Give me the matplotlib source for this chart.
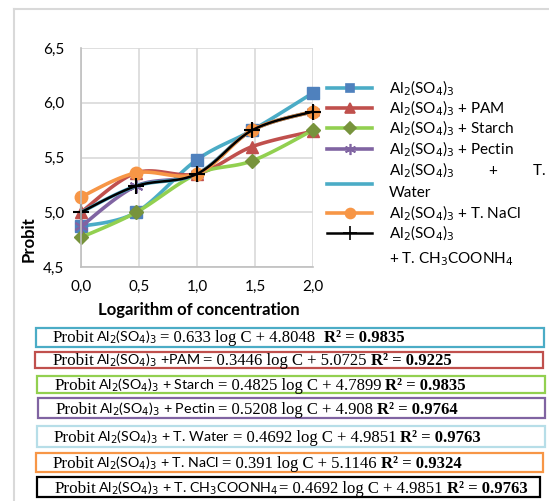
import numpy as np
import matplotlib
matplotlib.use("Agg")
import matplotlib.pyplot as plt
from matplotlib.lines import Line2D
from matplotlib.patches import Rectangle
from matplotlib import font_manager

# ---------------- data ----------------
log_conc = [0.0, 0.477, 1.0, 1.477, 2.0]
xticks = [0.0, 0.5, 1.0, 1.5, 2.0]
xtick_labels = ["0,0", "0,5", "1,0", "1,5", "2,0"]
yticks = [4.5, 5.0, 5.5, 6.0, 6.5]
ytick_labels = ["4,5", "5,0", "5,5", "6,0", "6,5"]

probit_al = [4.87, 5.00, 5.48, 5.75, 6.09]
probit_pam = [5.00, 5.36, 5.35, 5.60, 5.74]
probit_starch = [4.77, 5.00, 5.35, 5.47, 5.75]
probit_pectin = [4.87, 5.24, 5.35, 5.75, 5.92]
probit_water = [5.00, 5.24, 5.35, 5.75, 5.92]
probit_nacl = [5.14, 5.36, 5.35, 5.75, 5.92]
probit_ch3coonh4 = [5.00, 5.24, 5.35, 5.75, 5.92]

series_labels = [
    "Al$_2$(SO$_4$)$_3$",
    "Al$_2$(SO$_4$)$_3$ + PAM",
    "Al$_2$(SO$_4$)$_3$ + Starch",
    "Al$_2$(SO$_4$)$_3$ + Pectin",
    "Al$_2$(SO$_4$)$_3$         +         T.\nWater",
    "Al$_2$(SO$_4$)$_3$ + T. NaCl",
    "Al$_2$(SO$_4$)$_3$\n+ T. CH$_3$COONH$_4$",
]

eq_mid = ["Al$_2$(SO$_4$)$_3$", "Al$_2$(SO$_4$)$_3$ +PAM", "Al$_2$(SO$_4$)$_3$ + Starch",
          "Al$_2$(SO$_4$)$_3$ + Pectin", "Al$_2$(SO$_4$)$_3$ + T. Water",
          "Al$_2$(SO$_4$)$_3$ + T. NaCl", "Al$_2$(SO$_4$)$_3$ + T. CH$_3$COONH$_4$"]
eq_slope = ["0.633", "0.3446", "0.4825", "0.5208", "0.4692", "0.391", "0.4692"]
eq_icpt = ["4.8048", "5.0725", "4.7899", "4.908", "4.9851", "5.1146", "4.9851"]
eq_r2 = ["0.9835", "0.9225", "0.9835", "0.9764", "0.9763", "0.9324", "0.9763"]

# ---------------- style ----------------
W, H = 549, 501
fig = plt.figure(figsize=(W / 100, H / 100), dpi=100)

def fx(px):
    return px / W

def fy(py):
    return 1 - py / H

SANS = "Lato"
SERIF = "Liberation Serif"
installed = {f.name for f in font_manager.fontManager.ttflist}
EQ_SANS = "Liberation Sans Narrow" if "Liberation Sans Narrow" in installed else SANS

# chart-area border
fig.add_artist(Line2D([fx(14), fx(14)], [fy(9), fy(501)], color="#D9D9D9", lw=1.5))
fig.add_artist(Line2D([fx(14), fx(549)], [fy(9), fy(9)], color="#D9D9D9", lw=1.5))

ax = fig.add_axes([fx(81), fy(267), fx(313) - fx(81), fy(48) - fy(267)])
ax.set_xlim(0, 2)
ax.set_ylim(4.5, 6.5)
ax.set_xticks(xticks)
ax.set_xticklabels(xtick_labels, fontfamily=SANS, fontsize=11)
ax.set_yticks(yticks)
ax.set_yticklabels(ytick_labels, fontfamily=SANS, fontsize=11)
ax.tick_params(length=0, pad=9)
ax.tick_params(axis="y", pad=12)
ax.grid(True, color="#D9D9D9", lw=1.2)
ax.set_axisbelow(True)
for s in ["top", "right"]:
    ax.spines[s].set_visible(False)
for s in ["left", "bottom"]:
    ax.spines[s].set_color("#BFBFBF")
    ax.spines[s].set_linewidth(1.2)

def smooth(x, y, n=20):
    x = np.asarray(x, float)
    y = np.asarray(y, float)
    P = np.column_stack([x, y])
    P = np.vstack([P[0], P, P[-1]])
    out = []
    for i in range(1, len(P) - 2):
        p0, p1, p2, p3 = P[i - 1], P[i], P[i + 1], P[i + 2]
        t = np.linspace(0, 1, n)[:, None]
        c1 = p1 + (p2 - p0) / 6
        c2 = p2 - (p3 - p1) / 6
        seg = ((1 - t) ** 3) * p1 + 3 * ((1 - t) ** 2) * t * c1 + 3 * (1 - t) * t ** 2 * c2 + t ** 3 * p2
        out.append(seg if i == 1 else seg[1:])
    s = np.vstack(out)
    return s[:, 0], s[:, 1]

series = [
    (probit_al, "#4BACC6", "s", "#4F81BD", 8, 2.6),
    (probit_pam, "#C0504D", "^", "#C0504D", 9, 2.6),
    (probit_starch, "#92D050", "D", "#77933C", 7.5, 2.6),
    (probit_pectin, "#8064A2", (6, 2, 0), "#8064A2", 10, 2.6),
    (probit_water, "#4BACC6", None, None, 0, 2.6),
    (probit_nacl, "#F79646", "o", "#F79646", 9, 2.6),
    (probit_ch3coonh4, "#000000", "+", "#000000", 12, 1.8),
]

for ys, lc, mk, mc, ms, lw in series:
    sx, sy = smooth(log_conc, ys)
    ax.plot(sx, sy, color=lc, lw=lw, clip_on=False, solid_capstyle="round")
    if mk is not None:
        ax.plot(log_conc, ys, ls="none", marker=mk, color=mc, ms=ms,
                mec=mc, mew=1.5 if mk in ("+", (6, 2, 0)) else 1, clip_on=False)

fig.text(fx(199), fy(310), "Logarithm of concentration", fontfamily=SANS,
         fontweight="bold", fontsize=12, ha="center", va="center")
fig.text(fx(29), fy(239), "Probit", fontfamily=SANS, fontweight="bold",
         fontsize=12, ha="center", va="center", rotation=90)

# ---------------- legend ----------------
leg_rows = [88, 108, 128, 149, 161, 213, 224]
leg_line_y = [88, 108, 128, 149, 184, 213, 233]
for i, (lab, (ys, lc, mk, mc, ms, lw)) in enumerate(zip(series_labels, series)):
    yl = leg_line_y[i]
    fig.add_artist(Line2D([fx(327), fx(372)], [fy(yl), fy(yl)], color=lc, lw=lw))
    if mk is not None:
        fig.add_artist(Line2D([fx(349.5)], [fy(yl)], marker=mk, color=mc, mec=mc,
                              ms=ms * 0.8, mew=1.2, ls="none"))
    fig.text(fx(389), fy(leg_rows[i]), lab, fontfamily=SANS, fontsize=11,
             ha="left", va="top" if "\n" in lab else "center",
             linespacing=1.55, math_fontfamily="dejavusans")

# ---------------- equation boxes ----------------
boxes = [(36, 328, 544, 347, "#4BACC6"), (35, 352, 543, 368, "#C0504D"),
         (37, 376, 545, 393, "#92D050"), (38, 398, 545, 418, "#8064A2"),
         (37, 426, 545, 447, "#B7DEE8"), (36, 453, 543, 472, "#F79646"),
         (37, 477, 540, 497, "#000000")]
text_x = [53, 53, 55, 56, 54, 53, 55]
baseline_y = [342, 365, 390, 414, 442, 468, 493]

renderer = fig.canvas.get_renderer()

# fit the sans font size so the longest middle part spans ~180 px
probe = fig.text(0, 0, eq_mid[6], fontfamily=EQ_SANS, fontsize=10,
                 math_fontfamily="dejavusans")
sans_fs = min(13.5, 10 * 180 / probe.get_window_extent(renderer).width)
probe.remove()

for i, (x0, y0, x1, y1, col) in enumerate(boxes):
    fig.add_artist(Rectangle((fx(x0), fy(y1)), fx(x1) - fx(x0), fy(y0) - fy(y1),
                             fill=False, ec=col, lw=1.6, transform=fig.transFigure))
    pieces = [("Probit", SERIF, "normal", 12.3, 1),
              (eq_mid[i], EQ_SANS, "normal", sans_fs, 3 if i != 6 else 1),
              ("= " + eq_slope[i] + " log C + " + eq_icpt[i], SERIF, "normal", 12, 9 if i == 0 else 4),
              ("R² = " + eq_r2[i], SERIF, "bold", 12, 0)]
    xcur = text_x[i]
    for txt, fam, wt, fs, gap in pieces:
        t = fig.text(fx(xcur), fy(baseline_y[i]), txt, fontfamily=fam, fontweight=wt,
                     fontsize=fs, ha="left", va="baseline",
                     math_fontfamily="dejavusans")
        bb = t.get_window_extent(renderer)
        xcur = bb.x1 + gap

fig.savefig("out.png", dpi=100)
